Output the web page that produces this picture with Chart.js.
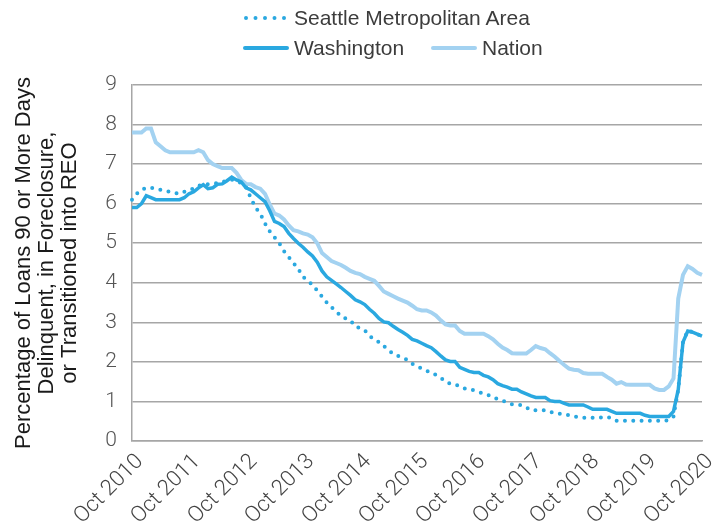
<!DOCTYPE html>
<html>
<head>
<meta charset="utf-8">
<script src="https://cdn.jsdelivr.net/npm/chart.js@4"></script>
<style>
  html, body { margin: 0; padding: 0; background: #fff; }
  #wrap { position: relative; width: 722px; height: 527px; }
  #legend { position: absolute; left: 0; top: 0; width: 722px; height: 70px;
    font-family: "Liberation Sans", Arial, sans-serif; font-size: 21px; color: #3c3c3c; }
  .item { position: absolute; display: flex; align-items: center; white-space: nowrap; line-height: 24px; }
  .item svg { margin-right: 5px; }
</style>
</head>
<body>
<div id="wrap">
  <canvas id="c" width="722" height="527"></canvas>
  <div id="legend"></div>
</div>
<script>
// ---- data ----
const monthNames = ["Oct","Nov","Dec","Jan","Feb","Mar","Apr","May","Jun","Jul","Aug","Sep"];
const startYear = 2010;
const tickLabels = ["Oct 2010","Oct 2011","Oct 2012","Oct 2013","Oct 2014","Oct 2015","Oct 2016","Oct 2017","Oct 2018","Oct 2019","Oct 2020"];
const seriesNames = ["Seattle Metropolitan Area", "Washington", "Nation"];

const seattle = [
  6.1, 6.25, 6.35, 6.4, 6.4, 6.38, 6.35, 6.32, 6.3, 6.27,
  6.25, 6.3, 6.35, 6.38, 6.45, 6.49, 6.49, 6.5, 6.52, 6.55,
  6.58, 6.61, 6.58, 6.52, 6.42, 6.15, 5.9, 5.75, 5.5, 5.3,
  5.15, 5.0, 4.8, 4.65, 4.5, 4.35, 4.15, 4.05, 3.95, 3.8,
  3.65, 3.5, 3.38, 3.28, 3.15, 3.1, 3.05, 2.9, 2.85, 2.8,
  2.65, 2.58, 2.5, 2.4, 2.3, 2.2, 2.15, 2.1, 2.05, 1.95,
  1.9, 1.83, 1.78, 1.72, 1.67, 1.6, 1.5, 1.45, 1.44, 1.38,
  1.33, 1.31, 1.28, 1.24, 1.2, 1.16, 1.1, 1.06, 1.02, 0.97,
  0.93, 0.92, 0.91, 0.85, 0.78, 0.78, 0.78, 0.78, 0.74, 0.7,
  0.69, 0.68, 0.65, 0.62, 0.6, 0.59, 0.59, 0.59, 0.59, 0.6,
  0.61, 0.57, 0.51, 0.51, 0.51, 0.51, 0.51, 0.51, 0.51, 0.51,
  0.51, 0.51, 0.51, 0.53, 0.62, 1.3, 2.5, 2.8, 2.75, 2.7,
  2.65
];
const washington = [
  5.9, 5.9, 6.0, 6.2, 6.15, 6.1, 6.1, 6.1, 6.1, 6.1,
  6.1, 6.15, 6.25, 6.3, 6.4, 6.48, 6.38, 6.4, 6.49, 6.5,
  6.58, 6.67, 6.6, 6.55, 6.4, 6.35, 6.25, 6.15, 6.05, 5.82,
  5.55, 5.5, 5.42, 5.25, 5.12, 5.0, 4.9, 4.78, 4.68, 4.52,
  4.3, 4.15, 4.06, 3.97, 3.88, 3.78, 3.68, 3.57, 3.52, 3.45,
  3.33, 3.23, 3.1, 3.01, 2.99, 2.9, 2.82, 2.75, 2.67, 2.57,
  2.53, 2.47, 2.41, 2.36, 2.26, 2.15, 2.05, 2.01, 2.01, 1.86,
  1.81, 1.76, 1.73, 1.73, 1.66, 1.62, 1.55, 1.45, 1.4, 1.36,
  1.31, 1.31, 1.24, 1.19, 1.14, 1.1, 1.1, 1.1, 1.02, 1.0,
  1.0, 0.95, 0.91, 0.91, 0.91, 0.91, 0.86, 0.8, 0.8, 0.8,
  0.8, 0.75, 0.7, 0.7, 0.7, 0.7, 0.7, 0.7, 0.65, 0.62,
  0.62, 0.62, 0.62, 0.62, 0.75, 1.3, 2.5, 2.78, 2.75, 2.7,
  2.65
];
const nation = [
  7.8, 7.8, 7.8, 7.9, 7.9, 7.55, 7.45, 7.35, 7.3, 7.3,
  7.3, 7.3, 7.3, 7.3, 7.35, 7.3, 7.1, 7.0, 6.95, 6.9,
  6.9, 6.9, 6.78, 6.6, 6.5, 6.49, 6.42, 6.38, 6.25, 5.98,
  5.75, 5.7, 5.6, 5.45, 5.33, 5.3, 5.25, 5.22, 5.15, 5.0,
  4.75, 4.65, 4.55, 4.5, 4.45, 4.38, 4.3, 4.25, 4.22, 4.15,
  4.1, 4.05, 3.92, 3.78, 3.72, 3.66, 3.6, 3.55, 3.5, 3.42,
  3.33, 3.3, 3.3, 3.25, 3.17, 3.05, 2.95, 2.92, 2.92, 2.78,
  2.71, 2.71, 2.71, 2.71, 2.71, 2.65, 2.57, 2.46, 2.36, 2.3,
  2.22, 2.21, 2.21, 2.21, 2.3, 2.4, 2.35, 2.32, 2.22, 2.13,
  2.02, 1.92, 1.83, 1.8, 1.79, 1.72, 1.7, 1.7, 1.7, 1.7,
  1.62, 1.55, 1.45, 1.49, 1.43, 1.42, 1.42, 1.42, 1.42, 1.42,
  1.33, 1.29, 1.29, 1.38, 1.58, 3.6, 4.2, 4.42, 4.35, 4.25,
  4.2
];

// ---- categories built from names ----
const categories = [];
for (let i = 0; i < seattle.length; i++) {
  const m = i % 12;
  const yr = startYear + Math.floor((i + 9) / 12);
  categories.push(monthNames[m] + " " + yr);
}

const darkBlue = "#2aa8e0";
const lightBlue = "#a3d2f1";
const gridGray = "#a6a6a6";
const lightFamily = "Roboto, 'Liberation Sans', sans-serif";

// ---- legend (HTML, real text) ----
function legendItem(left, top, kind, label) {
  const d = document.createElement("div");
  d.className = "item";
  d.style.left = left + "px";
  d.style.top = top + "px";
  let svg;
  if (kind === "dot") {
    svg = '<svg width="46" height="10"><line x1="3" y1="5" x2="44" y2="5" stroke="' + darkBlue + '" stroke-width="4" stroke-linecap="round" stroke-dasharray="0 9.5"/></svg>';
  } else {
    const col = kind === "wa" ? darkBlue : lightBlue;
    svg = '<svg width="46" height="10"><line x1="2" y1="5" x2="44" y2="5" stroke="' + col + '" stroke-width="4" stroke-linecap="round"/></svg>';
  }
  d.innerHTML = svg + '<span>' + label + '</span>';
  document.getElementById("legend").appendChild(d);
}
legendItem(243, 6, "dot", seriesNames[0]);
legendItem(243, 36, "wa", seriesNames[1]);
legendItem(431, 36, "na", seriesNames[2]);

// ---- chart ----
new Chart(document.getElementById("c"), {
  type: "line",
  data: {
    labels: categories,
    datasets: [
      { label: seriesNames[0], data: seattle, borderColor: darkBlue, borderWidth: 4,
        borderDash: [0, 8.3], borderCapStyle: "round", pointRadius: 0, tension: 0, fill: false },
      { label: seriesNames[1], data: washington, borderColor: darkBlue, borderWidth: 3.5,
        pointRadius: 0, tension: 0, fill: false },
      { label: seriesNames[2], data: nation, borderColor: lightBlue, borderWidth: 4,
        pointRadius: 0, tension: 0, fill: false }
    ]
  },
  options: {
    responsive: false,
    animation: false,
    devicePixelRatio: 1,
    layout: { padding: { left: 0, right: 20, top: 85, bottom: 0 } },
    plugins: { legend: { display: false }, tooltip: { enabled: false } },
    scales: {
      x: {
        type: "category",
        offset: false,
        grid: { display: false, drawTicks: false },
        border: { display: true, color: gridGray, width: 1.5 },
        ticks: {
          autoSkip: false, maxRotation: 45, minRotation: 45, padding: 8, labelOffset: 8,
          color: "#444", font: { family: lightFamily, size: 22, weight: 300 },
          callback: function (v, i) { return i % 12 === 0 ? tickLabels[i / 12] : null; }
        },
        afterFit: function (s) { s.height = 86; s.paddingRight = 0; s.paddingLeft = 0; }
      },
      y: {
        min: 0, max: 9,
        grid: { color: gridGray, lineWidth: 1.5, drawTicks: false },
        border: { display: true, color: gridGray, width: 1.5 },
        ticks: { stepSize: 1, padding: 15, color: "#555", font: { family: lightFamily, size: 21, weight: 300 } },
        title: {
          display: true,
          text: ["Percentage of Loans 90 or More Days", "Delinquent, in Foreclosure,", "or Transitioned into REO"],
          color: "#1a1a1a",
          font: { family: "'Liberation Sans', Arial, sans-serif", size: 22, lineHeight: 1.05 },
          padding: { top: 12, bottom: 0 }
        },
        afterFit: function (s) { s.width = 132; }
      }
    }
  }
});
</script>
</body>
</html>
